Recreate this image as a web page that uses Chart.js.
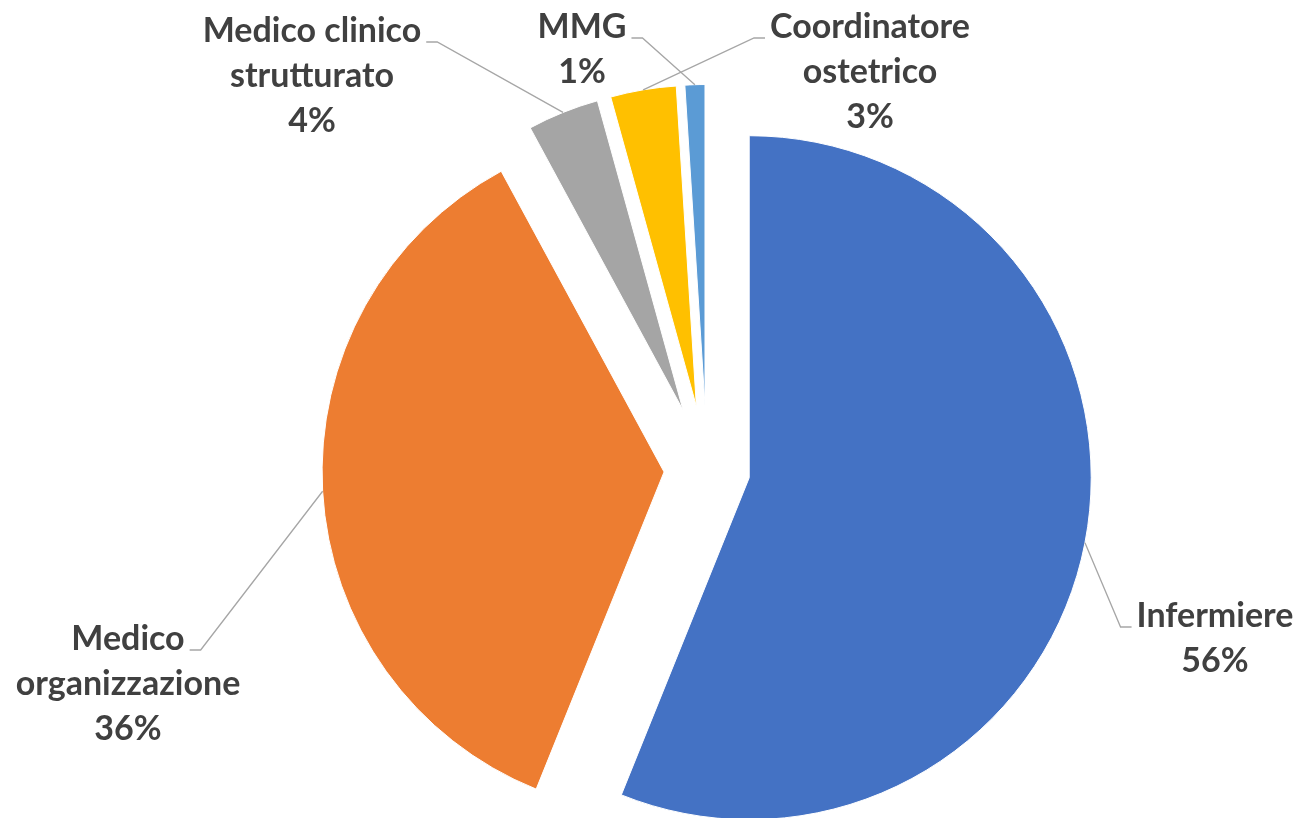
<!DOCTYPE html>
<html>
<head>
<meta charset="utf-8">
<script src="https://cdn.jsdelivr.net/npm/chart.js@4.4.0/dist/chart.umd.min.js"></script>
<style>
  html, body { margin: 0; padding: 0; background: #ffffff; }
  #wrap { width: 1302px; height: 818px; position: relative; }
</style>
</head>
<body>
<div id="wrap"><canvas id="pieChart"></canvas></div>
<script>
const categories = ['Infermiere', 'Medico organizzazione', 'Medico clinico strutturato', 'Coordinatore ostetrico', 'MMG'];
const shares = [56.1, 36.0, 3.6, 3.3, 1.0];  //percent of answers
//label text broken over lines like in the picture
const labelLines = [['Infermiere'], ['Medico', 'organizzazione'], ['Medico clinico', 'strutturato'], ['Coordinatore', 'ostetrico'], ['MMG']];

const sliceColors = ['#4472C4', '#ED7D31', '#A5A5A5', '#FFC000', '#5B9BD5'];
const explode = [43, 43, 64, 64, 64];  //how far each slice is pulled out (px)
//where each label sits: centre x, first baseline y, side the leader joins
const labelPos = [
  { x: 1215, y: 627, side: 'left' },
  { x: 128, y: 650, side: 'right' },
  { x: 312, y: 42, side: 'right' },
  { x: 870, y: 38, side: 'left' },
  { x: 582, y: 38, side: 'right' }
];

//pull slices out like Excel does: the slice moves out and gets smaller by the same amount
const explodePlugin = {
  id: 'explode',
  afterDatasetsUpdate(chart) {
    chart.getDatasetMeta(0).data.forEach((arc, i) => {
      const mid = (arc.startAngle + arc.endAngle) / 2;
      arc.x += Math.cos(mid) * explode[i];
      arc.y += Math.sin(mid) * explode[i];
      arc.outerRadius -= explode[i];
    });
  }
};

const labelPlugin = {
  id: 'sliceLabels',
  afterDatasetsDraw(chart) {
    const ctx = chart.ctx;
    const arcs = chart.getDatasetMeta(0).data;
    const total = shares.reduce((a, b) => a + b, 0);
    ctx.save();
    ctx.font = 'bold 34px Lato';
    ctx.fillStyle = '#404040';
    ctx.strokeStyle = '#A6A6A6';
    ctx.lineWidth = 1.3;
    ctx.textAlign = 'center';
    ctx.textBaseline = 'alphabetic';
    arcs.forEach((arc, i) => {
      const pos = labelPos[i];
      const lines = labelLines[i].concat(Math.round(shares[i] / total * 100) + '%');
      lines.forEach((t, k) => ctx.fillText(t, pos.x, pos.y + k * 45));

      //leader line: from the outer edge at mid angle to the first text line
      const mid = (arc.startAngle + arc.endAngle) / 2;
      const ex = arc.x + Math.cos(mid) * arc.outerRadius;
      const ey = arc.y + Math.sin(mid) * arc.outerRadius;
      const dir = pos.side === 'left' ? -1 : 1;
      const tx = pos.x + dir * (ctx.measureText(lines[0]).width / 2 + 5);
      ctx.beginPath();
      ctx.moveTo(tx, pos.y);
      ctx.lineTo(tx + dir * 11, pos.y);
      ctx.lineTo(ex, ey);
      ctx.stroke();
    });
    ctx.restore();
  }
};

document.addEventListener('DOMContentLoaded', function () {
  new Chart(document.getElementById('pieChart'), {
    type: 'pie',
    data: {
      labels: categories,
      datasets: [{
        data: shares,
        backgroundColor: sliceColors,
        borderColor: '#ffffff',
        borderWidth: 1
      }]
    },
    options: {
      responsive: true,
      maintainAspectRatio: false,
      animation: false,
      radius: 385,
      layout: { padding: { left: 112, top: 121, right: 0, bottom: 0 } },
      plugins: {
        legend: { display: false },
        tooltip: { enabled: false }
      }
    },
    plugins: [explodePlugin, labelPlugin]
  });
});
</script>
</body>
</html>
